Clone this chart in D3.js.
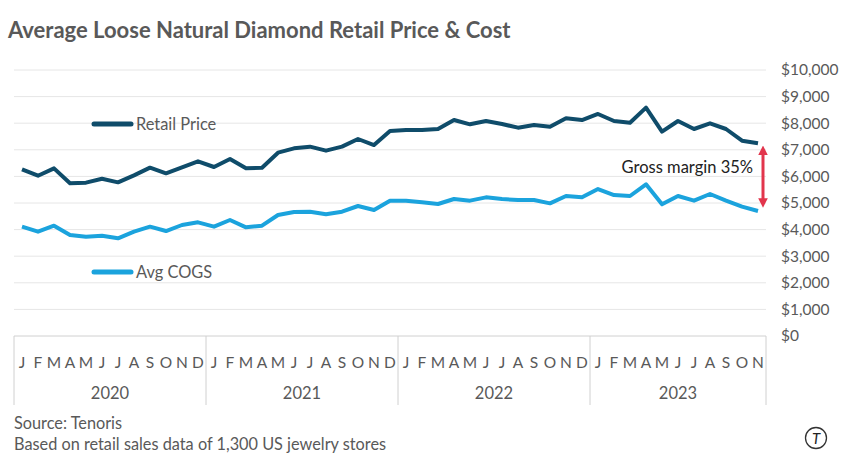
<!DOCTYPE html>
<html><head><meta charset="utf-8">
<script src="https://cdn.jsdelivr.net/npm/d3@7"></script>
<style>body{margin:0;background:#fff}svg{display:block}text{font-family:Lato,"Open Sans",sans-serif}</style>
</head><body>
<svg id="c" width="845" height="462"></svg>
<script>
const years = ["2020","2021","2022","2023"];
const monthLetters = ["J","F","M","A","M","J","J","A","S","O","N","D"];
const retailPrice = [6267,6026,6303,5740,5764,5914,5777,6040,6328,6115,6340,6566,
  6353,6654,6303,6328,6892,7055,7118,6967,7118,7406,7180,7707,
  7744,7744,7782,8120,7958,8083,7970,7832,7932,7870,8184,8120,
  8346,8083,8020,8584,7682,8083,7782,7995,7782,7343,7243];
const avgCogs = [4110,3922,4148,3797,3734,3771,3672,3922,4110,3947,4173,4273,
  4110,4361,4085,4148,4549,4660,4674,4574,4674,4887,4737,5088,
  5088,5025,4962,5150,5088,5213,5150,5113,5113,4987,5263,5213,
  5526,5300,5263,5702,4950,5263,5088,5338,5088,4862,4699];
const yTicks = [0,1000,2000,3000,4000,5000,6000,7000,8000,9000,10000];
const seriesNames = ["Retail Price","Avg COGS"];
const annotationText = "Gross margin 35%";

(function(){
const months = [];
years.forEach((yy)=>monthLetters.forEach((m,mi)=>{ if(months.length<retailPrice.length) months.push({key:yy+"-"+mi,letter:m,year:yy}); }));

const svg = d3.select("#c");
const gray = "#595959";
const pL=14, pR=766, pT=70, pB=336;
const x = d3.scaleBand().domain(months.map(d=>d.key)).range([pL,pR]);
const y = d3.scaleLinear().domain([0,10000]).range([pB,pT]);
const cx = k => x(k)+x.bandwidth()/2;

svg.append("text").attr("x",8).attr("y",38).attr("fill",gray)
  .attr("font-size",22).attr("font-weight",700).text("Average Loose Natural Diamond Retail Price & Cost");

svg.append("g").selectAll("line").data(yTicks.filter(d=>d>0)).join("line")
  .attr("x1",pL).attr("x2",pR).attr("y1",d=>y(d)).attr("y2",d=>y(d))
  .attr("stroke","#e6e6e6").attr("stroke-width",1);

const yAxis = d3.axisRight(y).tickValues(yTicks).tickSize(0).tickPadding(0)
  .tickFormat(d=>"$"+d3.format(",")(d));
const gy = svg.append("g").attr("transform",`translate(781,0)`).call(yAxis);
gy.select(".domain").remove();
gy.selectAll("text").attr("fill",gray).attr("font-size",15.5).attr("font-family","Lato,sans-serif");

const axisColor="#d0d0d0";
svg.append("line").attr("x1",pL).attr("x2",pR).attr("y1",pB).attr("y2",pB).attr("stroke",axisColor);
const yearStarts = years.map(yy=>months.find(m=>m.year===yy).key);
const bounds = yearStarts.map(k=>x(k)).concat([pR]);
svg.append("g").selectAll("line").data(bounds).join("line")
  .attr("x1",d=>d).attr("x2",d=>d).attr("y1",pB).attr("y2",405).attr("stroke",axisColor);
svg.append("g").selectAll("text").data(months).join("text")
  .attr("x",d=>cx(d.key)).attr("y",368).attr("text-anchor","middle")
  .attr("fill",gray).attr("font-size",15.5).text(d=>d.letter);
svg.append("g").selectAll("text").data(years).join("text")
  .attr("x",(d,i)=>(bounds[i]+bounds[i+1])/2).attr("y",399).attr("text-anchor","middle")
  .attr("fill",gray).attr("font-size",16.5).text(d=>d);

const colors = ["#0f4c6a","#1ba3dd"];
const line = d3.line().x((d,i)=>cx(months[i].key)).y(d=>y(d));
[retailPrice,avgCogs].forEach((s,i)=>{
  svg.append("path").datum(s).attr("d",line).attr("fill","none")
    .attr("stroke",colors[i]).attr("stroke-width",4).attr("stroke-linejoin","round");
});

const legY=[124,272];
seriesNames.forEach((n,i)=>{
  svg.append("line").attr("x1",94).attr("x2",131).attr("y1",legY[i]).attr("y2",legY[i])
    .attr("stroke",colors[i]).attr("stroke-width",5).attr("stroke-linecap","round");
  svg.append("text").attr("x",136).attr("y",legY[i]+6).attr("fill",gray).attr("font-size",16.4).text(n);
});

const last = months.length-1;
const ax = 763;
const defs = svg.append("defs");
defs.append("marker").attr("id","ar").attr("viewBox","0 0 10 10").attr("refX",5).attr("refY",5)
  .attr("markerWidth",3.2).attr("markerHeight",3.2).attr("orient","auto-start-reverse")
  .append("path").attr("d","M0,0L10,5L0,10z").attr("fill","#e2354c");
svg.append("line").attr("x1",ax).attr("x2",ax).attr("y1",y(retailPrice[last])+7).attr("y2",y(avgCogs[last])-8)
  .attr("stroke","#e2354c").attr("stroke-width",3)
  .attr("marker-start","url(#ar)").attr("marker-end","url(#ar)");
svg.append("text").attr("x",753).attr("y",173).attr("text-anchor","end").attr("fill","#222")
  .attr("font-size",16.5).text(annotationText);

svg.append("text").attr("x",14).attr("y",429).attr("fill",gray).attr("font-size",16.3).text("Source: Tenoris");
svg.append("text").attr("x",14).attr("y",450).attr("fill",gray).attr("font-size",16.3).text("Based on retail sales data of 1,300 US jewelry stores");

svg.append("circle").attr("cx",816).attr("cy",438).attr("r",10.5).attr("fill","none").attr("stroke","#333").attr("stroke-width",1.3);
svg.append("text").attr("x",816).attr("y",444).attr("text-anchor","middle").attr("fill","#222")
  .attr("font-size",15).attr("font-style","italic").attr("font-family","DejaVu Serif,serif").text("T");
})();
</script>
</body></html>
